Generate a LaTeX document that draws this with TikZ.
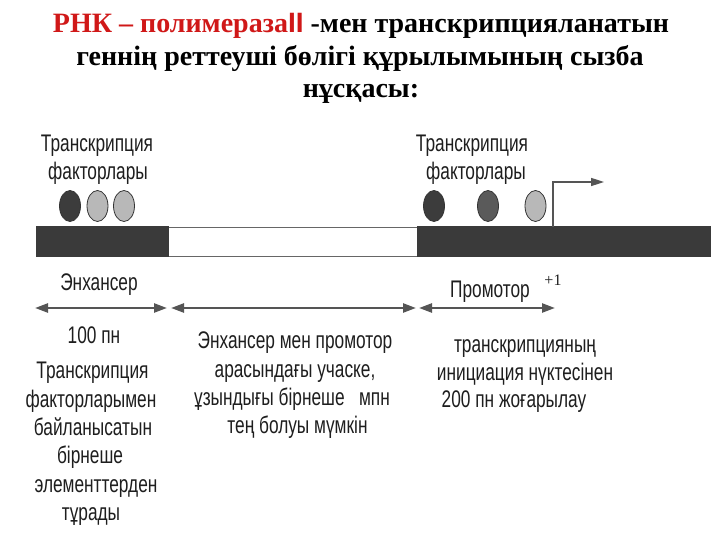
\documentclass[tikz,border=0pt]{standalone}
\usepackage{fontspec}
\setmainfont{Liberation Serif}
\newfontfamily\diagfont[FakeStretch=0.72]{Liberation Sans}
\newfontfamily\titlefont{Liberation Serif}
\newfontfamily\barsfont{Liberation Sans}
\usetikzlibrary{arrows.meta,shapes.geometric}
\definecolor{barc}{HTML}{3A3A3A}
\definecolor{txt}{HTML}{1E1E1E}
\definecolor{titlered}{HTML}{D01818}
\definecolor{arrc}{HTML}{555555}
\definecolor{tfdark}{HTML}{3C3C3C}
\definecolor{tfmid}{HTML}{5A5A5A}
\definecolor{tflight}{HTML}{B8B8B8}
\begin{document}
\begin{tikzpicture}[x=1pt,y=-1pt,
  title/.style={font=\titlefont\bfseries\fontsize{28}{32}\selectfont, inner sep=0pt, anchor=base},
  lbl/.style={font=\diagfont\fontsize{24}{28}\selectfont, text=txt, inner sep=0pt, anchor=base},
  tf/.style={ellipse, draw=black!80, line width=0.8pt, minimum width=21pt, minimum height=31pt, inner sep=0pt},
  dbl/.style={draw=arrc, line width=2.4pt, {Triangle[length=13pt,width=9pt]}-{Triangle[length=13pt,width=9pt]}},
  tss/.style={draw=arrc, line width=1.6pt, -{Triangle[length=13pt,width=8pt]}}
]
\useasboundingbox (0,0) rectangle (720,540);
\fill[white] (0,0) rectangle (720,540);
% title
\node[title] (t1) at (361,33) {\textcolor{titlered}{РНК – полимераза}\textcolor{titlered}{\barsfont\bfseries II} -мен транскрипцияланатын};
\node[title] (t2) at (360,66) {геннің реттеуші бөлігі құрылымының сызба};
\node[title] (t3) at (361,98) {нұсқасы:};
% bar
\fill[barc] (36,226) rectangle (169,257);
\draw[black!60, line width=0.8pt] (169,227) -- (417,227) (169,256) -- (417,256);
\fill[barc] (417,226) rectangle (711,257);
% transcription factors
\node[tf, fill=tfdark] (c1) at (70,206) {};
\node[tf, fill=tflight] (c2) at (97.5,206) {};
\node[tf, fill=tflight] (c3) at (124,206) {};
\node[tf, fill=tfdark] (c4) at (434,206) {};
\node[tf, fill=tfmid] (c5) at (488,206) {};
\node[tf, fill=tflight] (c6) at (535.5,206) {};
% start arrow
\coordinate (tssa) at (553,227);
\coordinate (tssb) at (604,182);
\draw[tss] (tssa) |- (tssb);
% labels
\node[lbl] (tfl1) at (97,152) {Транскрипция};
\node[lbl] (tfl2) at (98,180) {факторлары};
\node[lbl] (tfr1) at (472,152) {Транскрипция};
\node[lbl] (tfr2) at (476,180) {факторлары};
\node[lbl] (enh) at (99,290) {Энхансер};
\node[lbl] (prom) at (490,297) {Промотор};
\node[font=\fontsize{16}{18}\selectfont, text=txt, inner sep=0pt, anchor=base] (plus) at (553,285) {+1};
% double arrows
\coordinate (e1) at (35,308); \coordinate (e2) at (167,308);
\coordinate (s1) at (171,308); \coordinate (s2) at (416,308);
\coordinate (p1) at (419,308); \coordinate (p2) at (555,308);
\draw[dbl] (e1) -- (e2);
\draw[dbl] (s1) -- (s2);
\draw[dbl] (p1) -- (p2);
% bottom texts
\node[lbl] (l0) at (94,343) {100 пн};
\node[lbl] (l1) at (92.5,378) {Транскрипция};
\node[lbl] (l2) at (91,407) {факторларымен};
\node[lbl] (l3) at (93,435) {байланысатын};
\node[lbl] (l4) at (90,463) {бірнеше};
\node[lbl] (l5) at (96,492) {элементтерден};
\node[lbl] (l6) at (91,520) {тұрады};
\node[lbl] (m1) at (295,348) {Энхансер мен промотор};
\node[lbl] (m2) at (295,377) {арасындағы учаске,};
\node[lbl] (m3) at (292,405) {ұзындығы бірнеше \ \ мпн};
\node[lbl] (m4) at (297.5,433) {тең болуы мүмкін};
\node[lbl] (r1) at (525,352) {транскрипцияның};
\node[lbl] (r2) at (525,380) {инициация нүктесінен};
\node[lbl] (r3) at (514,407) {200 пн жоғарылау};
\end{tikzpicture}
\end{document}
